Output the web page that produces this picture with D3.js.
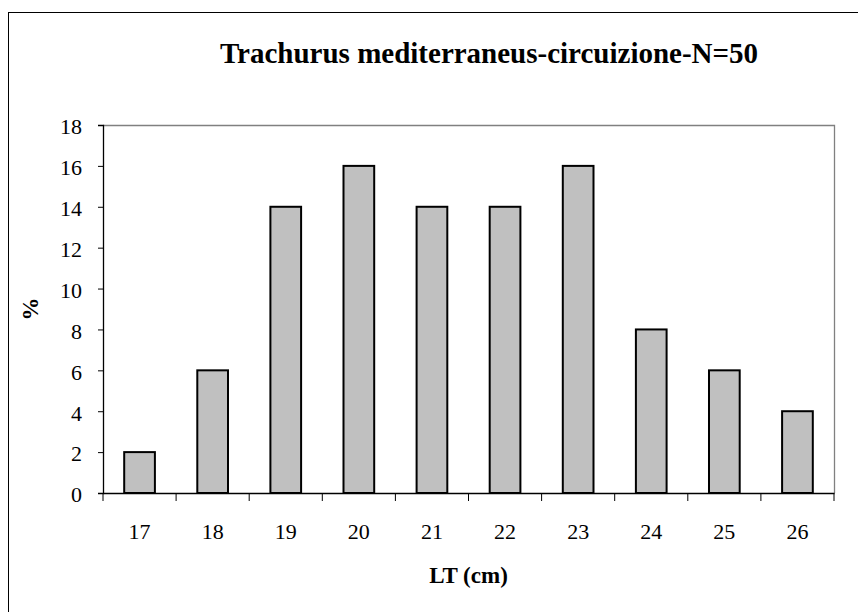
<!DOCTYPE html>
<html><head><meta charset="utf-8">
<script src="https://cdn.jsdelivr.net/npm/d3@7"></script>
<style>body{margin:0;background:#fff}svg{display:block}</style>
</head><body>
<svg id="c" width="858" height="612"></svg>
<script>
const categories = ["17","18","19","20","21","22","23","24","25","26"];
const values = [2,6,14,16,14,14,16,8,6,4];
const yTicks = [0,2,4,6,8,10,12,14,16,18];
const title = "Trachurus mediterraneus-circuizione-N=50";
const xTitle = "LT (cm)";
const yTitle = "%";

const svg = d3.select("#c");
const L = 103, R = 834, T = 125, B = 493;
const serif = "'Liberation Serif', 'Times New Roman', serif";

// outer chart border (cropped at right/bottom)
svg.append("rect").attr("x",8.5).attr("y",12.5).attr("width",900).attr("height",700)
  .attr("fill","none").attr("stroke","#000").attr("stroke-width",1);

const xb = d3.scaleBand().domain(categories).range([L,R]);
const y = d3.scaleLinear().domain([0,18]).range([B,T]);

// plot border top/right
svg.append("path").attr("d",`M${L},${T+0.5}H${R+0.5}V${B}`).attr("fill","none").attr("stroke","#808080").attr("stroke-width",1.3);

// bars
svg.append("g").selectAll("rect").data(values).join("rect")
  .attr("x",(d,i)=>xb(categories[i]) + xb.bandwidth()*0.29)
  .attr("width",xb.bandwidth()*0.42)
  .attr("y",d=>y(d)).attr("height",d=>B-y(d))
  .attr("fill","#C0C0C0").attr("stroke","#000").attr("stroke-width",2);

// y axis
const ya = svg.append("g").attr("transform",`translate(${L},0)`)
  .call(d3.axisLeft(y).tickValues(yTicks).tickSize(5).tickPadding(16).tickFormat(d3.format("d")));
ya.select(".domain").attr("stroke","#000").attr("stroke-width",1.3);
ya.selectAll(".tick line").attr("stroke","#000");
ya.selectAll("text").style("font-family",serif).style("font-size","22px").attr("fill","#000").attr("dy","0.4em");

// x axis
const xa = svg.append("g").attr("transform",`translate(0,${B})`)
  .call(d3.axisBottom(xb).tickSize(0).tickPadding(30));
xa.select(".domain").attr("stroke","#000").attr("stroke-width",1.3);
xa.selectAll("text").style("font-family",serif).style("font-size","22px").attr("fill","#000");
// boundary ticks
svg.append("g").selectAll("line").data(categories.concat(["end"])).join("line")
  .attr("x1",(d,i)=> i<categories.length ? xb(d) : R).attr("x2",(d,i)=> i<categories.length ? xb(d) : R)
  .attr("y1",B).attr("y2",B+8).attr("stroke","#000").attr("stroke-width",1);

// titles
svg.append("text").attr("x",(218+760)/2).attr("y",63).attr("text-anchor","middle")
  .style("font-family",serif).style("font-weight","bold").style("font-size","29px").text(title);
svg.append("text").attr("x",(L+R)/2).attr("y",583).attr("text-anchor","middle")
  .style("font-family",serif).style("font-weight","bold").style("font-size","23px").text(xTitle);
svg.append("text").attr("transform",`translate(38,${(T+B)/2}) rotate(-90)`).attr("text-anchor","middle")
  .style("font-family",serif).style("font-weight","bold").style("font-size","23px").text(yTitle);
</script>
</body></html>
